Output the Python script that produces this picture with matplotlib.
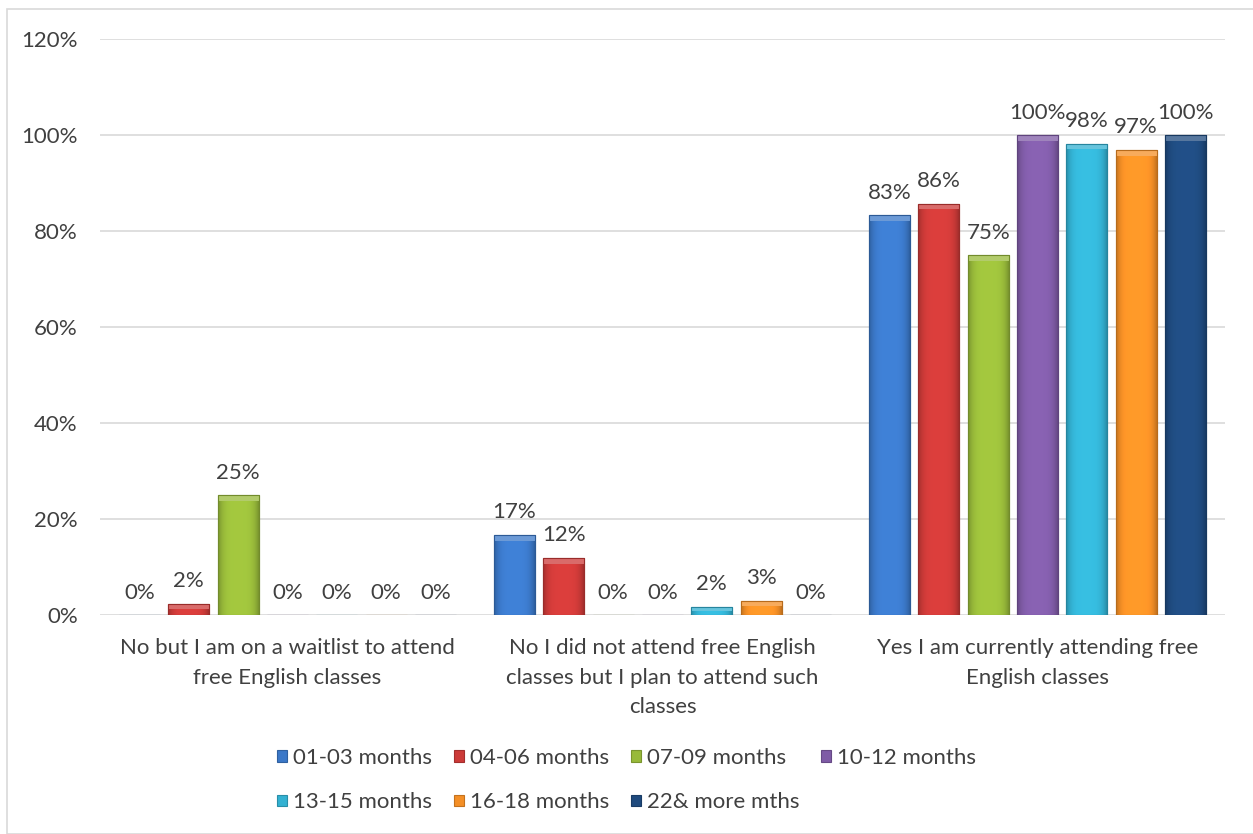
import numpy as np
import matplotlib.pyplot as plt
from matplotlib.patches import Rectangle
from matplotlib.colors import to_rgb

categories = [
    "No but I am on a waitlist to attend\nfree English classes",
    "No I did not attend free English\nclasses but I plan to attend such\nclasses",
    "Yes I am currently attending free\nEnglish classes",
]
series = ["01-03 months", "04-06 months", "07-09 months", "10-12 months",
          "13-15 months", "16-18 months", "22& more mths"]
values = [
    [0.0, 16.7, 83.3],
    [2.3, 11.9, 85.7],
    [25.0, 0.0, 75.0],
    [0.0, 0.0, 100.0],
    [0.0, 1.7, 98.2],
    [0.0, 3.0, 96.9],
    [0.0, 0.0, 100.0],
]
labels = [
    ["0%", "17%", "83%"],
    ["2%", "12%", "86%"],
    ["25%", "0%", "75%"],
    ["0%", "0%", "100%"],
    ["0%", "2%", "98%"],
    ["0%", "3%", "97%"],
    ["0%", "0%", "100%"],
]
colors = ["#3B78C8", "#CC3A38", "#98BA3A", "#7F5BA6", "#33B1D2", "#F48F26", "#1F4A7E"]

plt.rcParams["font.family"] = ["Lato", "DejaVu Sans"]
text_col = "#404040"
fs = 16

fig = plt.figure(figsize=(12.53, 8.34), dpi=100)
fig.patches.append(Rectangle((7 / 1253, 0), 1, 1 - 9 / 834, transform=fig.transFigure,
                             fill=False, edgecolor="#D9D9D9", linewidth=1.2))
ax = fig.add_axes([0.0798, 0.2626, 0.8979, 0.6906])

x = np.arange(len(categories))
step = 0.1315
width = 0.109


def shade(c, f):
    r = np.array(to_rgb(c))
    if f < 1:
        return tuple(r * f)
    return tuple(r + (1 - r) * (f - 1))


handles = []
for i, (name, vals) in enumerate(zip(series, values)):
    pos = x + (i - 3) * step
    bars = ax.bar(pos, vals, width, color=colors[i], edgecolor=shade(colors[i], 0.8),
                  linewidth=0.8, label=name, zorder=3)
    handles.append(bars)
    # bevel look: horizontal gradient clipped to each bar, lighter cap on top
    g = np.linspace(-1, 1, 64)
    prof = 1.08 - 0.28 * g ** 4
    base = np.array(to_rgb(colors[i]))
    img = np.clip(base[None, None, :] * prof[None, :, None], 0, 1)
    for b in bars:
        if b.get_height() <= 0:
            continue
        bx, bw, bh = b.get_x(), b.get_width(), b.get_height()
        im = ax.imshow(img, extent=(bx, bx + bw, 0, bh), aspect="auto", zorder=3.5,
                       interpolation="bilinear")
        im.set_clip_path(b)
        cap = min(1.2, bh * 0.5)
        ax.add_patch(Rectangle((bx, bh - cap), bw, cap, facecolor=shade(colors[i], 1.25),
                               edgecolor="none", zorder=3.6))
        ax.add_patch(Rectangle((bx, 0), bw, bh, fill=False, edgecolor=shade(colors[i], 0.75),
                               linewidth=0.8, zorder=3.7))
    for p, v, lab in zip(pos, vals, labels[i]):
        ax.text(p, v + 2.6, lab, ha="center", va="bottom", fontsize=fs, color=text_col, zorder=4)

ax.set_xlim(-0.5, 2.5)
ax.set_ylim(0, 120)
ax.set_yticks(np.arange(0, 121, 20))
ax.set_yticklabels([f"{t}%" for t in range(0, 121, 20)])
ax.grid(axis="y", color="#D9D9D9", linewidth=1.2, zorder=0)
ax.set_axisbelow(True)
for s in ax.spines.values():
    s.set_visible(False)
ax.tick_params(axis="y", length=0, pad=16, labelsize=fs, labelcolor=text_col)
ax.tick_params(axis="x", length=0, pad=16.5, labelsize=fs, labelcolor=text_col)
ax.set_xticks(x)
ax.set_xticklabels(categories, linespacing=1.6, va="top")

order = [0, 4, 1, 5, 2, 6, 3]
leg = fig.legend([handles[k] for k in order], [series[k] for k in order],
                 loc="center", bbox_to_anchor=(0.5, 0.0648), ncol=4, frameon=False,
                 fontsize=fs, labelcolor=text_col, handlelength=0.45, handleheight=0.45,
                 handletextpad=0.25, columnspacing=1.0, labelspacing=1.12)

fig.savefig("out.png", dpi=100)
